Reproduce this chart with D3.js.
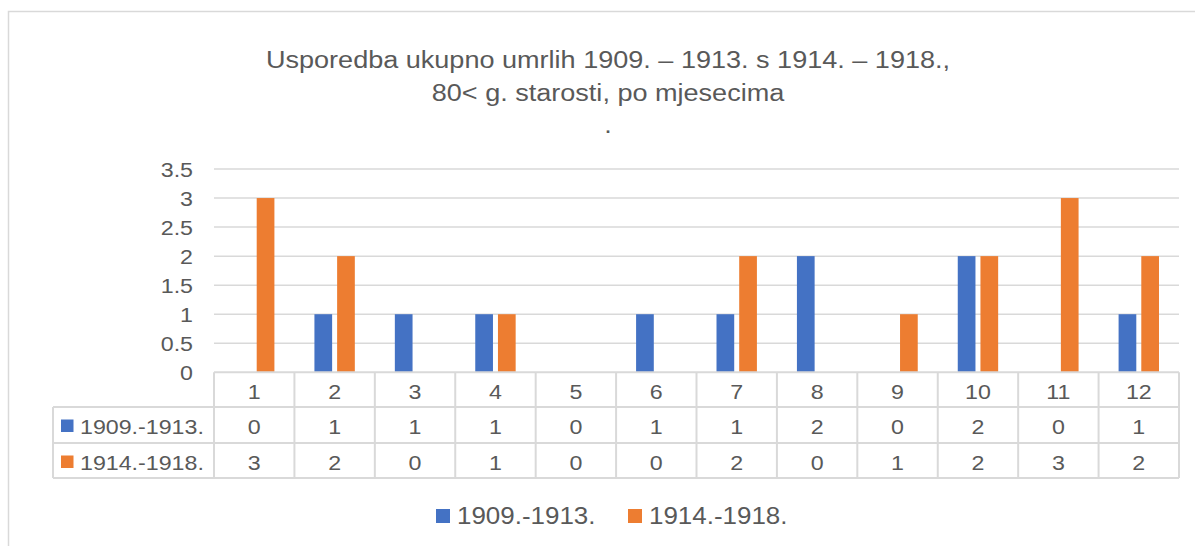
<!DOCTYPE html>
<html>
<head>
<meta charset="utf-8">
<script src="https://cdn.jsdelivr.net/npm/d3@7"></script>
<style>
  body { margin: 0; background: #fff; }
  svg text { font-family: "Liberation Sans", Arial, sans-serif; fill: #595959; }
</style>
</head>
<body>
<div id="chart"></div>
<script>
// data
var months = ["1", "2", "3", "4", "5", "6", "7", "8", "9", "10", "11", "12"];
var seriesNames = ["1909.-1913.", "1914.-1918."];
var values1909 = [0, 1, 1, 1, 0, 1, 1, 2, 0, 2, 0, 1];
var values1914 = [3, 2, 0, 1, 0, 0, 2, 0, 1, 2, 3, 2];
var colors = ["#4472C4", "#ED7D31"];
var yTicks = [0, 0.5, 1, 1.5, 2, 2.5, 3, 3.5];
var titleLines = ["Usporedba ukupno umrlih 1909. \u2013 1913. s 1914. \u2013 1918.,", "80< g. starosti, po mjesecima", "."];

var width = 1195, height = 546;
var SX = 1.1; // the picture's text is a bit wider than plain Arial

var svg = d3.select('#chart').append('svg')
    .attr("width", width)
    .attr("height", height);

// chart frame
svg.append("rect")
    .attr("x", 8.5).attr("y", 11.5)
    .attr("width", 1300).attr("height", 700)
    .attr("fill", "none")
    .attr("stroke", "#d9d9d9")
    .attr("stroke-width", 1.5);

function addText(g, x, y, str, size, anchor) {
    return g.append("text")
        .attr("transform", "translate(" + x + "," + y + ") scale(" + SX + ",1)")
        .attr("font-size", size)
        .attr("text-anchor", anchor || "start")
        .text(str);
}

// title
titleLines.forEach(function (t, i) {
    addText(svg, 608, 68 + i * 32.5, t, 24.6, "middle");
});

var plotLeft = 214, plotRight = 1179, plotTop = 169, plotBottom = 372.3;

var x = d3.scaleBand().domain(months).range([plotLeft, plotRight]).padding(0);
var x1 = d3.scaleBand().domain(seriesNames)
    .range([x.bandwidth() / 2 - 20.2, x.bandwidth() / 2 + 20.2])
    .paddingInner(0.22).paddingOuter(0);
var y = d3.scaleLinear().domain([0, 3.5]).range([plotBottom, plotTop]);

// gridlines
svg.append("g").selectAll("line")
    .data(yTicks.filter(d => d > 0))
    .enter().append("line")
    .attr("x1", plotLeft).attr("x2", plotRight)
    .attr("y1", d => y(d)).attr("y2", d => y(d))
    .attr("stroke", "#d9d9d9")
    .attr("stroke-width", 1.5);

// y axis labels
var yAxis = svg.append("g")
    .attr("transform", "translate(" + plotLeft + ",0)")
    .call(d3.axisLeft(y).tickValues(yTicks).tickSize(0).tickPadding(0).tickFormat(d3.format("")));
yAxis.select(".domain").remove();
yAxis.selectAll("text")
    .attr("x", null).attr("dy", null)
    .attr("font-size", 21.1)
    .attr("fill", "#595959")
    .attr("font-family", '"Liberation Sans", Arial, sans-serif')
    .attr("transform", "translate(-21,7.5) scale(" + SX + ",1)");

// bars
var rows = months.map((m, i) => ({ month: m, vals: [values1909[i], values1914[i]] }));
var groups = svg.append("g").selectAll("g")
    .data(rows)
    .enter().append("g")
    .attr("transform", d => "translate(" + x(d.month) + ",0)");
groups.selectAll("rect")
    .data(d => d.vals.map((v, k) => ({ name: seriesNames[k], v: v, k: k })))
    .enter().append("rect")
    .attr("x", d => x1(d.name))
    .attr("width", x1.bandwidth())
    .attr("y", d => y(d.v))
    .attr("height", d => plotBottom - y(d.v))
    .attr("fill", d => colors[d.k]);

// data table
var rowTop = [372.3, 407, 443, 478];
var tableLeft = 53;
var tg = svg.append("g");
var lineColor = "#d9d9d9";
// horizontal lines
tg.append("line").attr("x1", plotLeft).attr("x2", plotRight).attr("y1", rowTop[0]).attr("y2", rowTop[0])
    .attr("stroke", lineColor).attr("stroke-width", 2);
[1, 2, 3].forEach(function (r) {
    tg.append("line").attr("x1", tableLeft).attr("x2", plotRight)
        .attr("y1", rowTop[r]).attr("y2", rowTop[r])
        .attr("stroke", lineColor).attr("stroke-width", 2);
});
// vertical lines
months.forEach(function (m) {
    tg.append("line").attr("x1", x(m)).attr("x2", x(m))
        .attr("y1", rowTop[0]).attr("y2", rowTop[3])
        .attr("stroke", lineColor).attr("stroke-width", 2);
});
tg.append("line").attr("x1", plotRight).attr("x2", plotRight)
    .attr("y1", rowTop[0]).attr("y2", rowTop[3])
    .attr("stroke", lineColor).attr("stroke-width", 2);
tg.append("line").attr("x1", tableLeft).attr("x2", tableLeft)
    .attr("y1", rowTop[1]).attr("y2", rowTop[3])
    .attr("stroke", lineColor).attr("stroke-width", 2);

// header row
months.forEach(function (m) {
    addText(tg, x(m) + x.bandwidth() / 2, 398.5, m, 21.1, "middle");
});
// series rows
[values1909, values1914].forEach(function (vals, r) {
    var base = rowTop[r + 1];
    tg.append("rect")
        .attr("x", 61).attr("y", base + 12.5)
        .attr("width", 12.5).attr("height", 12.5)
        .attr("fill", colors[r]);
    addText(tg, 80, base + 27, seriesNames[r], 21.1, "start");
    vals.forEach(function (v, i) {
        addText(tg, x(months[i]) + x.bandwidth() / 2, base + 27, v, 21.1, "middle");
    });
});

// legend
var legendX = [436, 628];
seriesNames.forEach(function (name, i) {
    svg.append("rect")
        .attr("x", legendX[i]).attr("y", 509)
        .attr("width", 14).attr("height", 14)
        .attr("fill", colors[i]);
    addText(svg, legendX[i] + 21, 524, name, 23.6, "start");
});
</script>
</body>
</html>
